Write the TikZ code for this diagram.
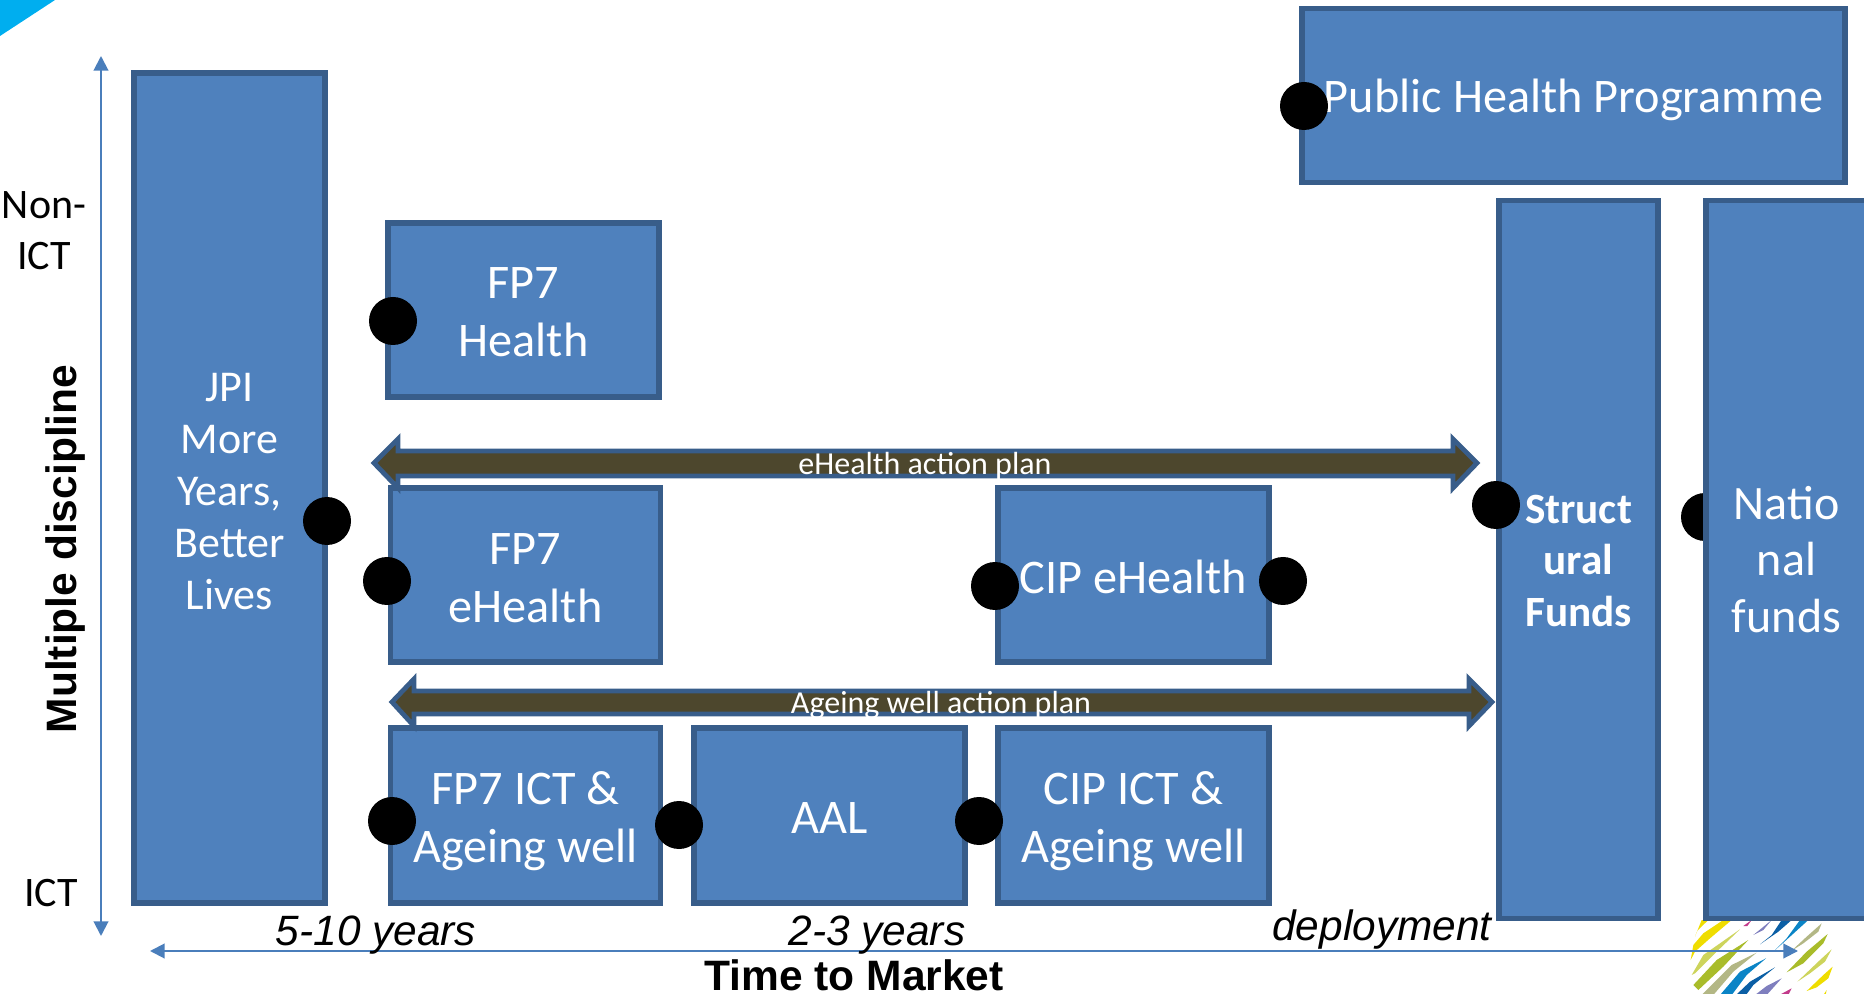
\documentclass[tikz,border=0pt]{standalone}
\usepackage{fontspec}
\setmainfont{Carlito}
\newfontfamily\arialf{Liberation Sans}
\usetikzlibrary{arrows.meta}
\definecolor{boxfill}{HTML}{4F81BD}
\definecolor{boxline}{HTML}{385D8A}
\definecolor{axisline}{HTML}{4A7EBB}
\definecolor{planfill}{HTML}{4D472D}
\newcommand{\lowered}[2]{\raisebox{-#1pt}[\height][\depth]{\begin{tabular}{@{}c@{}}#2\end{tabular}}}
\tikzset{
  x=0.75pt,y=-0.75pt,
  fbox/.style={draw=boxline,fill=boxfill,line width=4.2pt,text=white,align=center,inner sep=0pt,font=\fontsize{36.2}{43.5}\selectfont},
  jbox/.style={fbox,font=\fontsize{33}{39}\selectfont},
  dot/.style={circle,fill=black,minimum size=36pt,inner sep=0pt},
  plan/.style={draw=boxline,fill=planfill,line width=3.6pt,line join=miter},
  planlabel/.style={text=white,font=\fontsize{24}{28}\selectfont,inner sep=0pt},
  axis/.style={axisline,line width=1.5pt,{Triangle[length=11pt,width=11pt]}-{Triangle[length=11pt,width=11pt]}},
  sidelabel/.style={text=black,align=center,inner sep=0pt,font=\fontsize{31.5}{38}\selectfont},
  timelabel/.style={text=black,inner sep=0pt,font=\arialf\itshape\fontsize{31.8}{36}\selectfont},
  axistitle/.style={text=black,inner sep=0pt,font=\arialf\bfseries\fontsize{31.9}{36}\selectfont},
}
\begin{document}
\begin{tikzpicture}
\useasboundingbox (0,0) rectangle (1864,994);
\clip (0,0) rectangle (1864,994);
% corner mark
\fill[fill={rgb,255:red,0;green,174;blue,239}] (0,0) -- (55,0) -- (0,36) -- cycle;
% logo
\begin{scope}[shift={(1660,910)},x=0.25pt,y=-0.25pt]
\definecolor{lgY}{HTML}{EFDD00}\definecolor{lgL}{HTML}{CDD45C}\definecolor{lgG}{HTML}{A9BC2A}
\definecolor{lgT}{HTML}{B3B785}\definecolor{lgB}{HTML}{0A84C6}\definecolor{lgD}{HTML}{0B5FA5}
\definecolor{lgP}{HTML}{7F7FBE}\definecolor{lgM}{HTML}{C23A8B}
\fill[lgY] (105,80) -- (125,30) -- (145,30) -- (112,62) -- cycle;
\fill[lgY] (92,150) -- (100,105) -- (130,70) -- (190,30) -- (215,30) -- (150,85) -- (105,125) -- cycle;
\fill[lgL] (95,195) -- (130,135) -- (240,58) -- (170,125) -- (105,190) -- cycle;
\fill[lgG] (100,225) -- (170,150) -- (265,90) -- (190,170) -- (115,240) -- cycle;
\fill[lgT] (125,255) -- (215,165) -- (290,128) -- (220,185) -- (160,255) -- cycle;
\fill[lgB] (180,255) -- (240,185) -- (318,145) -- (260,195) -- (215,255) -- cycle;
\fill[lgD] (228,255) -- (270,215) -- (345,172) -- (280,225) -- (258,255) -- cycle;
\fill[lgP] (285,255) -- (320,228) -- (365,205) -- (320,255) -- cycle;
\fill[lgM] (358,255) -- (395,235) -- (385,255) -- cycle;
\fill[lgM] (250,48) -- (275,30) -- (262,48) -- cycle;
\fill[lgP] (280,75) -- (335,30) -- (310,60) -- cycle;
\fill[lgD] (300,103) -- (355,65) -- (395,30) -- (365,30) -- (335,75) -- cycle;
\fill[lgB] (340,125) -- (390,80) -- (445,30) -- (420,30) -- (380,85) -- cycle;
\fill[lgT] (395,122) -- (440,80) -- (485,40) -- (475,65) -- (430,100) -- cycle;
\fill[lgG] (380,187) -- (440,125) -- (503,72) -- (490,100) -- (430,160) -- cycle;
\fill[lgL] (412,215) -- (480,150) -- (515,118) -- (495,155) -- (450,190) -- cycle;
\fill[lgY] (440,243) -- (490,195) -- (518,170) -- (505,205) -- (470,232) -- cycle;
\fill[lgY] (490,255) -- (500,240) -- (497,255) -- cycle;
\end{scope}
% dot that sits behind the national funds box
\node[dot] (dnat) at (1705,517) {};
% boxes
\node[jbox,minimum width=143.6pt,minimum height=622.6pt] (jpi) at (229.5,488) {\lowered{5.7}{JPI\\More\\Years,\\Better\\Lives}};
\node[fbox,minimum width=407.4pt,minimum height=130.4pt] (php) at (1573.5,95.5) {\lowered{4.4}{Public Health Programme}};
\node[fbox,minimum width=203.4pt,minimum height=130.9pt] (fh) at (523.5,310) {\lowered{4.7}{FP7\\Health}};
\node[fbox,minimum width=202.4pt,minimum height=130.9pt] (fe) at (525.5,575) {\lowered{4.9}{FP7\\eHealth}};
\node[fbox,minimum width=203.4pt,minimum height=130.9pt] (ce) at (1133.5,575) {\lowered{5}{CIP eHealth}};
\node[fbox,minimum width=202.4pt,minimum height=130.9pt] (fi) at (525.5,815.5) {\lowered{4.5}{FP7 ICT \&\\Ageing well}};
\node[fbox,minimum width=203.4pt,minimum height=130.9pt] (aal) at (829.5,815.5) {\lowered{4.5}{AAL}};
\node[fbox,minimum width=203.4pt,minimum height=130.9pt] (ci) at (1133.5,815.5) {\lowered{4.5}{CIP ICT \&\\Ageing well}};
\node[fbox,minimum width=119.4pt,minimum height=538.4pt,font=\bfseries\fontsize{32.4}{38.5}\selectfont] (sf) at (1578.5,559.5) {\lowered{3.8}{Struct\\ural\\Funds}};
\node[fbox,minimum width=120.4pt,minimum height=538.4pt,font=\fontsize{36}{42.5}\selectfont] (nf) at (1786.5,559.5) {\lowered{3.7}{Natio\\nal\\funds}};
% action plan arrows
\draw[plan] (374,463) -- (398,439) -- (398,451) -- (1453,451) -- (1453,439) -- (1477,463) -- (1453,488) -- (1453,476) -- (398,476) -- (398,488) -- cycle;
\node[planlabel] (eh) at (925,466) {eHealth action plan};
\draw[plan] (392,702) -- (414,679) -- (414,691) -- (1469,691) -- (1469,679) -- (1492,702) -- (1469,726) -- (1469,714) -- (414,714) -- (414,726) -- cycle;
\node[planlabel] (aw) at (941,705) {Ageing well action plan};
% dots
\node[dot] (d1) at (1304,106) {};
\node[dot] (d2) at (393,321) {};
\node[dot] (d3) at (327,521) {};
\node[dot] (d4) at (387,581) {};
\node[dot] (d5) at (995,586) {};
\node[dot] (d6) at (1283,581) {};
\node[dot] (d7) at (1496,505) {};
\node[dot] (d8) at (392,821) {};
\node[dot] (d9) at (679,825) {};
\node[dot] (d10) at (979,821) {};
% axes
\coordinate (vt) at (101,56);
\coordinate (vb) at (101,936);
\coordinate (hl) at (150,951);
\coordinate (hr) at (1798,951);
\draw[axis] (vt) -- (vb);
\draw[axis] (hl) -- (hr);
% axis labels
\node[sidelabel] (nonict) at (44,231) {Non-\\ICT};
\node[sidelabel] (ict) at (51,893) {ICT};
\node[axistitle,rotate=90] (md) at (66,549) {Multiple discipline};
\node[axistitle] (ttm) at (854,975) {Time to Market};
\node[timelabel] (y1) at (376,935) {5-10 years};
\node[timelabel] (y2) at (877,935) {2-3 years};
\node[timelabel] (y3) at (1382,930) {deployment};
\end{tikzpicture}
\end{document}
